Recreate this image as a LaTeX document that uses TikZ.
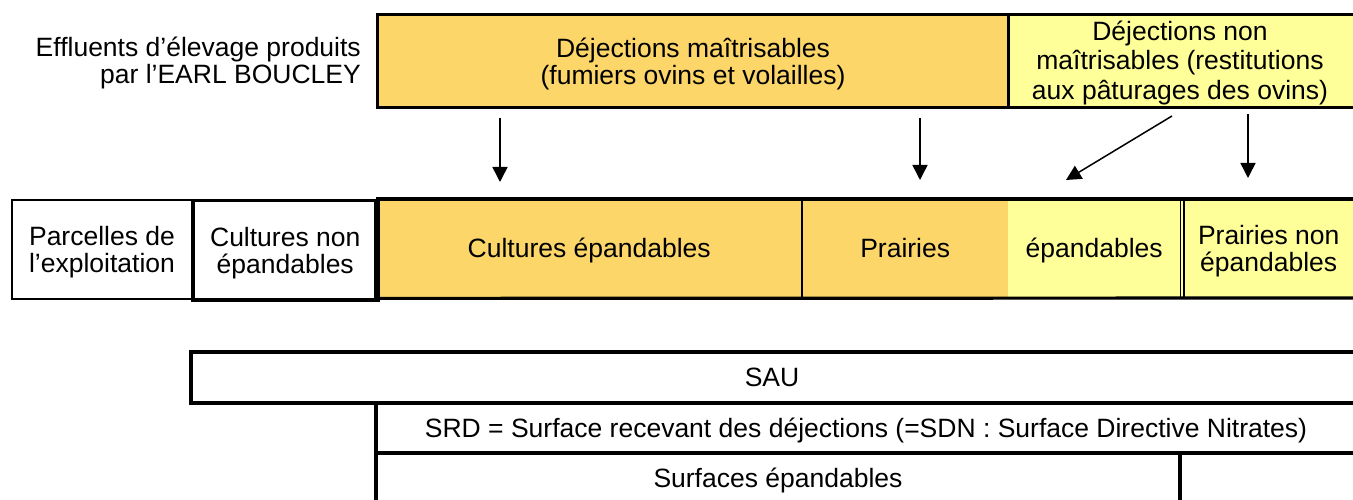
\documentclass[tikz,border=0pt]{standalone}
\usepackage{fontspec}
\setmainfont{Liberation Sans}
\usetikzlibrary{arrows.meta}
\definecolor{maitr}{RGB}{252,214,104}
\definecolor{nonmaitr}{RGB}{255,255,153}
\tikzset{
  lbl/.style={font=\fontsize{26.5}{27}\selectfont, align=center, inner sep=0pt},
  oneline/.style={lbl, text height=24pt, text depth=5.6pt},
  cell/.style={draw, line width=3pt, inner sep=0pt, anchor=north west},
  flow/.style={line width=1.5pt, -{Triangle[length=15pt,width=15pt]}},
  rule/.style={line width=3.2pt},
}
\begin{document}
\begin{tikzpicture}[x=1pt,y=-1pt]
\useasboundingbox (0,0) rectangle (1353,500);
\clip (0,0) rectangle (1353,500);

% --- effluents produced (top row)
\node[lbl, align=right, anchor=east] (titre) at (361,62.5)
  {Effluents d’élevage produits\\par l’EARL BOUCLEY};
\node[cell, fill=maitr, minimum width=631pt, minimum height=93pt] (maitr) at (376,13) {};
\node[lbl] at ([yshift=-2.5pt]maitr.center) {Déjections maîtrisables\\(fumiers ovins et volailles)};
\node[cell, fill=nonmaitr, minimum width=351pt, minimum height=93pt] (nonmaitr) at (1007,13) {};
\node[lbl, font=\fontsize{26.5}{29.5}\selectfont] at (1180,62.5)
  {Déjections non\\maîtrisables (restitutions\\aux pâturages des ovins)};

% --- plots of the farm (middle row)
\fill[maitr] (376,199) rectangle (1008,298);
\fill[nonmaitr] (1008,199) rectangle (1360,298);
\node[draw, line width=2pt, anchor=north west, minimum width=180pt, minimum height=99pt] (parc) at (11,199) {};
\node[lbl] at ([yshift=-2.5pt]parc.center) {Parcelles de\\l’exploitation};
\node[draw, line width=3.5pt, anchor=north west, minimum width=185pt, minimum height=99pt] (cnonep) at (191,199) {};
\node[lbl] at ([yshift=-2.5pt]cnonep.center) {Cultures non\\épandables};
\node[oneline, minimum width=426pt, minimum height=99pt, anchor=north west] (cep) at (376,199) {Cultures épandables};
\node[oneline, minimum width=206pt, minimum height=99pt, anchor=north west] (prai) at (802,199) {Prairies};
\node[oneline, minimum width=172pt, minimum height=99pt, anchor=north west] (epand) at (1008,199) {épandables};
\node[minimum width=169pt, minimum height=99pt, anchor=north west, inner sep=0pt] (pnonep) at (1184,199) {};
\node[lbl] at ([yshift=-2.5pt]pnonep.center) {Prairies non\\épandables};
\draw[rule] (cep.north west) -- (1360,199);
\draw[rule] (cep.south west) -- (1360,298);
\draw[rule] (cep.north west) -- (cep.south west);
\draw[line width=2pt] (prai.north west) -- (prai.south west);
\draw[line width=1.3pt] (1180.5,199) -- (1180.5,298);
\draw[line width=1.3pt] (pnonep.north west) -- (pnonep.south west);

% --- where the effluents go
\coordinate (a1s) at (500,118); \coordinate (a1e) at (500,182);
\coordinate (a2s) at (920,118); \coordinate (a2e) at (920,180);
\coordinate (a3s) at (1172,116); \coordinate (a3e) at (1066,180);
\coordinate (a4s) at (1248,114); \coordinate (a4e) at (1248,178);
\draw[flow] (a1s) -- (a1e);
\draw[flow] (a2s) -- (a2e);
\draw[flow] (a3s) -- (a3e);
\draw[flow] (a4s) -- (a4e);

% --- surfaces (bottom table)
\node[oneline] (sau) at (772,377.5) {SAU};
\node[oneline] (srd) at (866,428) {SRD = Surface recevant des déjections (=SDN : Surface Directive Nitrates)};
\node[oneline] (sep) at (778,478) {Surfaces épandables};
\draw[rule] (1360,352) -- (191,352) -- (191,403) -- (1360,403);
\draw[rule] (376,403) -- (376,510);
\draw[rule] (376,453) -- (1360,453);
\draw[rule] (1180,453) -- (1180,510);
\end{tikzpicture}
\end{document}
